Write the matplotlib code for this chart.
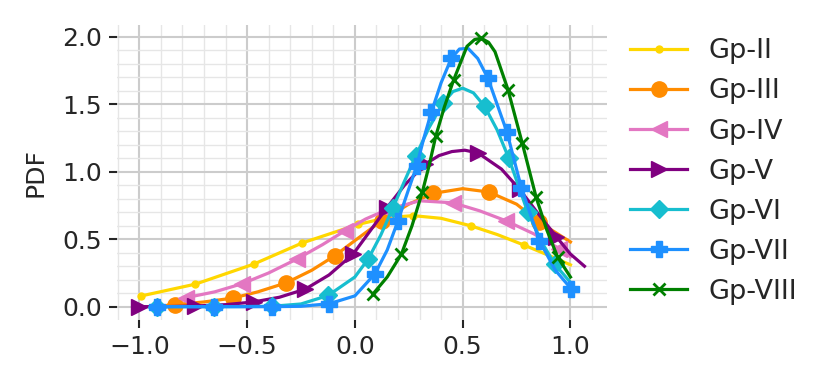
import matplotlib.pyplot as plt
from matplotlib.ticker import MultipleLocator

# values
gp2_x = [-0.99, -0.74, -0.47, -0.245, 0.015, 0.15, 0.27, 0.4, 0.537, 0.66, 0.784, 0.9, 1.0]
gp2_y = [0.08, 0.167, 0.315, 0.472, 0.61, 0.66, 0.675, 0.655, 0.60, 0.535, 0.457, 0.38, 0.31]
gp2_m = [0, 1, 2, 3, 4, 6, 8, 10]

gp3_x = [-0.88, -0.835, -0.7, -0.565, -0.45, -0.318, -0.2, -0.093, 0.0, 0.124, 0.25, 0.363,
         0.5, 0.622, 0.75, 0.856, 1.0]
gp3_y = [0.008, 0.015, 0.035, 0.064, 0.11, 0.177, 0.27, 0.378, 0.49, 0.636, 0.76, 0.84,
         0.875, 0.85, 0.76, 0.625, 0.48]
gp3_m = [1, 3, 5, 7, 9, 11, 13, 15]

gp4_x = [-0.785, -0.65, -0.523, -0.4, -0.268, -0.15, -0.046, 0.05, 0.15, 0.3, 0.455, 0.58,
         0.702, 0.83, 0.949, 1.0]
gp4_y = [0.066, 0.11, 0.17, 0.25, 0.354, 0.46, 0.563, 0.65, 0.72, 0.785, 0.77, 0.71,
         0.636, 0.54, 0.43, 0.37]
gp4_m = [0, 2, 4, 6, 8, 10, 12, 14]

gp5_x = [-1.0, -0.87, -0.74, -0.6, -0.47, -0.35, -0.23, -0.12, -0.008, 0.07, 0.147, 0.23,
         0.324, 0.39, 0.45, 0.51, 0.571, 0.68, 0.764, 0.85, 0.934, 1.0, 1.065]
gp5_y = [0.0, 0.001, 0.005, 0.015, 0.035, 0.07, 0.13, 0.235, 0.39, 0.56, 0.73, 0.9,
         1.055, 1.12, 1.15, 1.16, 1.14, 1.02, 0.87, 0.69, 0.52, 0.39, 0.30]
gp5_m = [0, 2, 4, 6, 8, 10, 12, 16, 18, 20]

gp6_x = [-0.92, -0.79, -0.654, -0.52, -0.384, -0.25, -0.124, 0.0, 0.062, 0.12, 0.177, 0.23,
         0.282, 0.345, 0.409, 0.455, 0.5, 0.55, 0.602, 0.66, 0.714, 0.802, 0.87, 0.926, 1.0]
gp6_y = [0.0, 0.0, 0.0, 0.001, 0.003, 0.02, 0.083, 0.22, 0.354, 0.53, 0.735, 0.93,
         1.116, 1.33, 1.51, 1.595, 1.62, 1.585, 1.485, 1.31, 1.10, 0.70, 0.47, 0.317, 0.18]
gp6_m = [0, 2, 4, 6, 8, 10, 12, 14, 18, 20, 21, 23]

gp7_x = [-0.92, -0.79, -0.654, -0.52, -0.384, -0.25, -0.119, 0.0, 0.093, 0.15, 0.2, 0.245,
         0.286, 0.32, 0.355, 0.4, 0.447, 0.485, 0.525, 0.57, 0.617, 0.705, 0.772, 0.856,
         0.93, 1.003]
gp7_y = [0.0, 0.0, 0.0, 0.0, 0.0, 0.003, 0.022, 0.08, 0.243, 0.42, 0.636, 0.85,
         1.04, 1.25, 1.443, 1.66, 1.84, 1.91, 1.915, 1.84, 1.694, 1.296, 0.883, 0.489,
         0.27, 0.133]
gp7_m = [0, 2, 4, 6, 8, 10, 12, 14, 16, 20, 21, 22, 23, 25]

gp8_x = [0.085, 0.15, 0.216, 0.265, 0.313, 0.345, 0.375, 0.415, 0.458, 0.52, 0.555, 0.586,
         0.62, 0.65, 0.71, 0.776, 0.841, 0.89, 0.941, 1.0]
gp8_y = [0.096, 0.22, 0.39, 0.6, 0.85, 1.05, 1.263, 1.48, 1.68, 1.93, 1.98, 1.99,
         1.96, 1.89, 1.61, 1.215, 0.81, 0.57, 0.366, 0.22]
gp8_m = [0, 2, 4, 6, 8, 11, 14, 15, 16, 18]

series = [
    ("Gp-II", gp2_x, gp2_y, gp2_m, "#FFD700", "o", 5),
    ("Gp-III", gp3_x, gp3_y, gp3_m, "#FF8C00", "o", 11),
    ("Gp-IV", gp4_x, gp4_y, gp4_m, "#E377C2", "<", 11),
    ("Gp-V", gp5_x, gp5_y, gp5_m, "#800080", ">", 11),
    ("Gp-VI", gp6_x, gp6_y, gp6_m, "#17BECF", "D", 9),
    ("Gp-VII", gp7_x, gp7_y, gp7_m, "#1E90FF", "P", 11),
    ("Gp-VIII", gp8_x, gp8_y, gp8_m, "#008000", "x", 9),
]

plt.rcParams["font.family"] = "DejaVu Sans"
fig, ax = plt.subplots(figsize=(8.3, 3.88), dpi=100)
fig.subplots_adjust(left=0.141, right=0.731, bottom=0.175, top=0.936)

for name, xs, ys, mk, col, marker, ms in series:
    ax.plot(xs, ys, color=col, lw=2.3, marker=marker, markersize=ms, markevery=mk,
            markeredgewidth=2 if marker == "x" else 1, label=name)

ax.xaxis.set_major_locator(MultipleLocator(0.5))
ax.yaxis.set_major_locator(MultipleLocator(0.5))
ax.xaxis.set_minor_locator(MultipleLocator(0.1))
ax.yaxis.set_minor_locator(MultipleLocator(0.1))
ax.grid(which="major", color="#cccccc", lw=1.5)
ax.grid(which="minor", color="#e6e6e6", lw=1)
ax.set_axisbelow(True)
for s in ax.spines.values():
    s.set_visible(False)
ax.tick_params(which="major", length=6, width=1.5, color="#262626",
               labelsize=18, labelcolor="#262626", pad=5)
ax.tick_params(which="minor", length=0)
ax.set_ylabel("PDF", fontsize=18, color="#262626", labelpad=10)

ax.legend(loc="upper left", bbox_to_anchor=(1.02, 1.0), frameon=False, fontsize=19.5,
          handlelength=2.1, labelspacing=0.52, borderaxespad=0.1, handletextpad=0.8,
          labelcolor="#262626")

fig.savefig("out.png", dpi=100)
